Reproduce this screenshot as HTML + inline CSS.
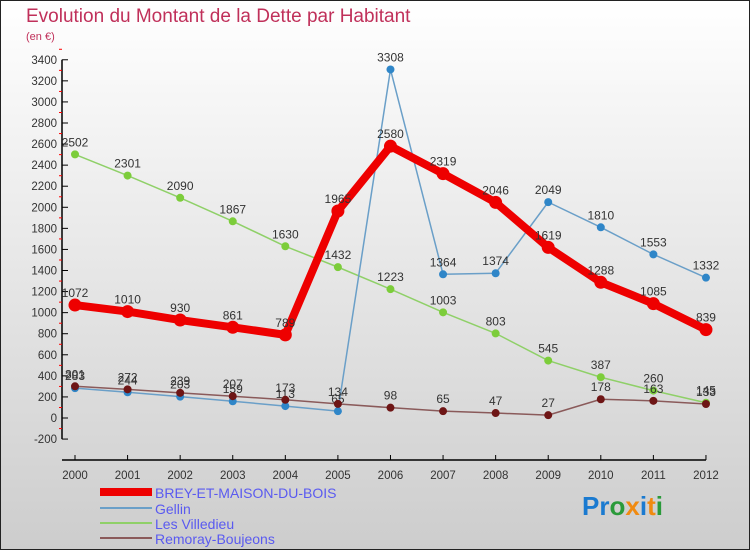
<!DOCTYPE html>
<html><head><meta charset="utf-8"><style>
body{margin:0;width:750px;height:550px;overflow:hidden;font-family:"Liberation Sans",sans-serif}
svg{display:block}
</style></head><body>
<svg width="750" height="550" viewBox="0 0 750 550">
<defs><linearGradient id="bg" x1="0" y1="0" x2="0" y2="1"><stop offset="0" stop-color="#ffffff"/><stop offset="1" stop-color="#cdcdcd"/></linearGradient></defs>
<rect x="0.5" y="0.5" width="749" height="549" fill="url(#bg)" stroke="#222"/>
<text x="26" y="22" font-size="19" fill="#c0305a">Evolution du Montant de la Dette par Habitant</text>
<text x="26" y="40" font-size="11" fill="#c0305a">(en €)</text>
<g id="axes"></g>
<g id="series"></g>
<g id="legend">
<rect x="100" y="488" width="52" height="8" fill="#ee0000"/>
<text x="155" y="498" font-size="14" fill="#5a5af0">BREY-ET-MAISON-DU-BOIS</text>
<rect x="100" y="507" width="52" height="2" fill="#6a9fc8"/>
<text x="155" y="514" font-size="14" fill="#5a5af0">Gellin</text>
<rect x="100" y="522" width="52" height="2" fill="#8fd068"/>
<text x="155" y="529" font-size="14" fill="#5a5af0">Les Villedieu</text>
<rect x="100" y="537" width="52" height="2" fill="#8a5a5a"/>
<text x="155" y="544" font-size="14" fill="#5a5af0">Remoray-Boujeons</text>
</g>
<g font-size="26" font-weight="bold">
<text x="582" y="515"><tspan fill="#1a7ad0">Pr</tspan><tspan fill="#2a9a3a">o</tspan><tspan fill="#f08a10">x</tspan><tspan fill="#1a7ad0">i</tspan><tspan fill="#f08a10">t</tspan><tspan fill="#2a9a3a">i</tspan></text>
</g>
</svg>
<script>
const years=[2000,2001,2002,2003,2004,2005,2006,2007,2008,2009,2010,2011,2012];
const yTicks=[-200,0,200,400,600,800,1000,1200,1400,1600,1800,2000,2200,2400,2600,2800,3000,3200,3400];
const brey=[1072,1010,930,861,789,1965,2580,2319,2046,1619,1288,1085,839];
const gellin=[283,244,203,159,113,65,3308,1364,1374,2049,1810,1553,1332];
const villedieu=[2502,2301,2090,1867,1630,1432,1223,1003,803,545,387,260,145];
const remoray=[301,272,239,207,173,134,98,65,47,27,178,163,133];
const NS="http://www.w3.org/2000/svg";
const xS=i=>75+i*52.58;
const yS=v=>418-v*0.10536;
function mk(t,a,p){const e=document.createElementNS(NS,t);for(const k in a)e.setAttribute(k,a[k]);p.appendChild(e);return e;}
const ax=document.getElementById('axes');
let l=mk('line',{x1:62,y1:yS(3400),x2:62,y2:yS(-200),stroke:'#000','stroke-width':1.5},ax);


yTicks.forEach(v=>{
 const y=yS(v);
 mk('line',{x1:62,y1:y,x2:68,y2:y,stroke:'#000'},ax);
 mk('line',{x1:59,y1:y-10.5,x2:62,y2:y-10.5,stroke:'#f00'},ax);
 const t=mk('text',{x:57,y:y+4,'font-size':11.5,fill:'#333','text-anchor':'end'},ax);t.textContent=v;
 
 
});
l=mk('line',{x1:62,y1:460,x2:xS(12),y2:460,stroke:'#000','stroke-width':1.5},ax);


years.forEach((yr,i)=>{
 const x=xS(i);
 mk('line',{x1:x,y1:455,x2:x,y2:460,stroke:'#000'},ax);
 const t=mk('text',{x:x,y:479,'font-size':11.5,fill:'#333','text-anchor':'middle'},ax);t.textContent=yr;
 
 
});
const sg=document.getElementById('series');
function series(data,color,w,r,dot,name){
 const g=mk('g',{},sg);
 
 
 const p=mk('polyline',{points:data.map((v,i)=>xS(i)+','+yS(v)).join(' '),fill:'none',stroke:color,'stroke-width':w,'stroke-linejoin':'round'},g);
 
 
 data.forEach((v,i)=>{
  const c=mk('circle',{cx:xS(i),cy:yS(v),r:r,fill:dot},g);
  
  
  const t=mk('text',{x:xS(i),y:yS(v)-8,'font-size':12,fill:'#333','text-anchor':'middle'},g);t.textContent=v;
  
  
 });
}
series(villedieu,'#8fd068',1.5,4,'#7ccd3a','villedieu');
series(gellin,'#6a9fc8',1.5,4,'#2f86c8','gellin');
series(remoray,'#8a5a5a',1.5,4,'#6e1515','remoray');
series(brey,'#ee0000',8,6.5,'#ee0000','brey');
</script>
</body></html>
